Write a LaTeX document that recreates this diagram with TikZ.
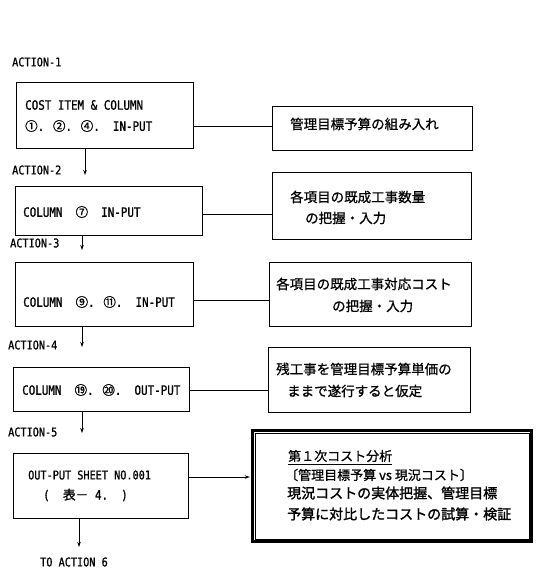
\documentclass[tikz,border=0pt]{standalone}
\usepackage{fontspec}
\setmainfont{Noto Sans CJK JP}
\newfontfamily\jp[FakeBold=0.8]{Noto Sans CJK JP}
\newfontfamily\jpb[FakeBold=1.6]{Noto Sans CJK JP}
\newfontfamily\mono[FakeBold=1,FakeStretch=0.85]{DejaVu Sans Mono}
\usetikzlibrary{arrows.meta}
\begin{document}
\begin{tikzpicture}[x=1pt,y=-1pt,
  box/.style={draw,line width=0.8pt,inner sep=0pt},
  lbl/.style={anchor=west,inner sep=0pt,font=\mono\fontsize{12}{14}\selectfont},
  ltxt/.style={anchor=west,inner sep=0pt,font=\mono\fontsize{12.8}{14}\selectfont},
  jtxt/.style={anchor=west,inner sep=0pt,font=\jp\fontsize{13.5}{15}\selectfont},
  jbig/.style={anchor=west,inner sep=0pt,font=\jpb\fontsize{14}{16}\selectfont},
  conn/.style={line width=0.8pt},
  arr/.style={line width=0.8pt,-{Stealth[length=5pt,width=3.5pt]}}]
\useasboundingbox (0,0) rectangle (537,579);
\fill[white] (0,0) rectangle (537,579);

% left boxes
\node[box,minimum width=177pt,minimum height=66pt] (b1) at (104.5,115) {};
\node[box,minimum width=187pt,minimum height=49pt] (b2) at (108.5,210.5) {};
\node[box,minimum width=178pt,minimum height=64pt] (b3) at (104,294) {};
\node[box,minimum width=176pt,minimum height=44pt] (b4) at (101,389) {};
\node[box,minimum width=175pt,minimum height=65pt] (b5) at (100.5,485.5) {};

% right boxes
\node[box,minimum width=200pt,minimum height=44pt] (r1) at (372,128) {};
\node[box,minimum width=199pt,minimum height=67pt] (r2) at (371.5,205.5) {};
\node[box,minimum width=202pt,minimum height=64pt] (r3) at (370,294) {};
\node[box,minimum width=202pt,minimum height=65pt] (r4) at (369,379.5) {};
\node[draw,line width=2.4pt,inner sep=0pt,minimum width=279pt,minimum height=111pt] (r5) at (392,486) {};
\draw[line width=0.6pt] ([shift={(3.5,3.5)}]r5.north west) rectangle ([shift={(-3.5,-3.5)}]r5.south east);

% action labels
\node[lbl] (a1) at (12,62) {ACTION-1};
\node[lbl] (a2) at (12,170) {ACTION-2};
\node[lbl] (a3) at (10,243) {ACTION-3};
\node[lbl] (a4) at (8,345) {ACTION-4};
\node[lbl] (a5) at (8,432) {ACTION-5};
\node[lbl] (a6) at (40,562) {TO ACTION 6};

% left box texts
\node[ltxt] (t1a) at (25,105) {COST ITEM \& COLUMN};
\node[ltxt] (t1b) at (25,126) {{\jp\fontsize{12.5}{14}\selectfont ①}. {\jp\fontsize{12.5}{14}\selectfont ②}. {\jp\fontsize{12.5}{14}\selectfont ④}.\ \ IN-PUT};
\node[ltxt] (t2) at (23,212) {COLUMN\ \ {\jp\fontsize{12.5}{14}\selectfont ⑦}\ \ IN-PUT};
\node[ltxt] (t3) at (23,302) {COLUMN\ \ {\jp\fontsize{12.5}{14}\selectfont ⑨}. {\jp\fontsize{12.5}{14}\selectfont ⑪}.\ \ IN-PUT};
\node[ltxt] (t4) at (22,390) {COLUMN\ \ {\jp\fontsize{12.5}{14}\selectfont ⑲}. {\jp\fontsize{12.5}{14}\selectfont ⑳}.\ \ OUT-PUT};
\node[lbl] (t5a) at (28,475) {OUT-PUT SHEET NO.001};
\node[ltxt] (t5b) at (43,495) {(\ \ {\jp 表－}\ 4.\ \ )};

% right box texts
\node[jtxt] (s1) at (290,124) {管理目標予算の組み入れ};
\node[jtxt] (s2a) at (290,197) {各項目の既成工事数量};
\node[jtxt] (s2b) at (305,218) {の把握・入力};
\node[jtxt] (s3a) at (276,284) {各項目の既成工事対応コスト};
\node[jtxt] (s3b) at (332,306) {の把握・入力};
\node[jtxt] (s4a) at (276,369) {残工事を管理目標予算単価の};
\node[jtxt] (s4b) at (287,391) {ままで遂行すると仮定};
\node[jtxt,font=\jp\fontsize{13}{15}\selectfont] (s5a) at (288,456) {第１次コスト分析};
\draw[line width=0.9pt] ([shift={(0,8.5)}]s5a.west) -- ([shift={(0,8.5)}]s5a.east);
\node[jtxt,font=\jp\fontsize{13}{15}\selectfont] (s5b) at (285,475) {〔管理目標予算 vs 現況コスト〕};
\node[jbig] (s5c) at (287,493) {現況コストの実体把握、管理目標};
\node[jbig] (s5d) at (287,514) {予算に対比したコストの試算・検証};

% vertical arrows
\coordinate (e1) at (85,175);
\coordinate (e2) at (82,250);
\coordinate (e3) at (82,347);
\coordinate (e4) at (82,433);
\coordinate (e5) at (79,547);
\draw[arr] (b1.south -| e1) -- (e1);
\draw[arr] (b2.south -| e2) -- (e2);
\draw[arr] (b3.south -| e3) -- (e3);
\draw[arr] (b4.south -| e4) -- (e4);
\draw[arr] (b5.south -| e5) -- (e5);

% horizontal connectors
\coordinate (h1) at (0,126);
\coordinate (h2) at (0,214);
\coordinate (h3) at (0,300);
\coordinate (h4) at (0,390);
\coordinate (h5) at (0,477);
\draw[conn] (b1.east |- h1) -- (r1.west |- h1);
\draw[conn] (b2.east |- h2) -- (r2.west |- h2);
\draw[conn] (b3.east |- h3) -- (r3.west |- h3);
\draw[conn] (b4.east |- h4) -- (r4.west |- h4);
\draw[arr] (b5.east |- h5) -- ([xshift=-1.5pt]r5.west |- h5);
\end{tikzpicture}
\end{document}
